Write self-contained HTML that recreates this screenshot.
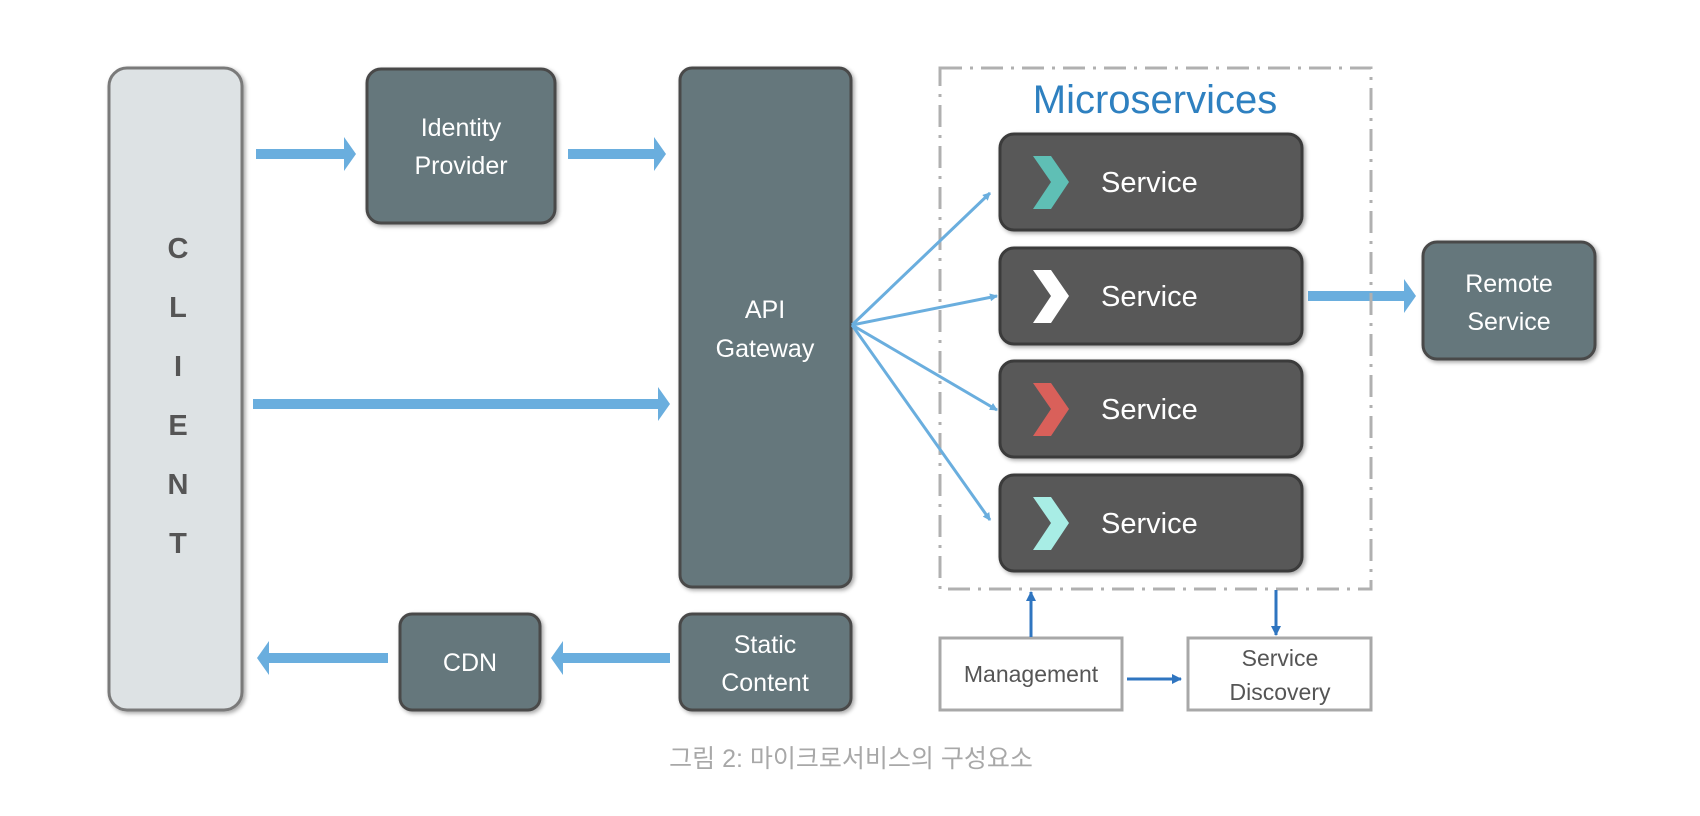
<!DOCTYPE html>
<html><head><meta charset="utf-8"><style>
html,body{margin:0;padding:0;background:#fff;}
svg{display:block}
text{font-family:"Liberation Sans","Noto Sans CJK KR",sans-serif;}
</style></head><body>
<svg width="1700" height="816" viewBox="0 0 1700 816" xmlns="http://www.w3.org/2000/svg">
<defs>
<filter id="sh" x="-10%" y="-10%" width="130%" height="130%"><feDropShadow dx="2" dy="2" stdDeviation="2" flood-color="#000" flood-opacity="0.35"/></filter>
<marker id="ab" markerWidth="8" markerHeight="8" refX="7" refY="4" orient="auto" markerUnits="userSpaceOnUse"><path d="M0,0 L8,4 L0,8 z" fill="#6aaede"/></marker>
<marker id="ad" markerWidth="10" markerHeight="10" refX="9" refY="5" orient="auto" markerUnits="userSpaceOnUse"><path d="M0,0 L10,5 L0,10 z" fill="#2f75c0"/></marker>
</defs>

<!-- Client -->
<rect x="109" y="68" width="133" height="642" rx="18" fill="#dde2e4" stroke="#7a7a7a" stroke-width="3" filter="url(#sh)"/>
<g font-size="29" font-weight="bold" fill="#555" text-anchor="middle">
<text x="178" y="258">C</text><text x="178" y="317">L</text><text x="178" y="376">I</text>
<text x="178" y="435">E</text><text x="178" y="494">N</text><text x="178" y="553">T</text>
</g>

<!-- dark boxes -->
<g fill="#65777b" stroke="#4a4a4a" stroke-width="3" filter="url(#sh)">
<rect x="367" y="69" width="188" height="154" rx="14"/>
<rect x="680" y="68" width="171" height="519" rx="12"/>
<rect x="680" y="614" width="171" height="96" rx="12"/>
<rect x="400" y="614" width="140" height="96" rx="12"/>
<rect x="1423" y="242" width="172" height="117" rx="14"/>
</g>
<g font-size="25" fill="#fff" text-anchor="middle">
<text x="461" y="136">Identity</text><text x="461" y="174">Provider</text>
<text x="765" y="318">API</text><text x="765" y="357">Gateway</text>
<text x="765" y="653">Static</text><text x="765" y="691">Content</text>
<text x="470" y="671">CDN</text>
<text x="1509" y="292">Remote</text><text x="1509" y="330">Service</text>
</g>

<!-- thick arrows -->
<g fill="#6aaede">
<path d="M256,149 h88 v-12 l12,17 l-12,17 v-12 h-88z"/>
<path d="M568,149 h86 v-12 l12,17 l-12,17 v-12 h-86z"/>
<path d="M253,399 h405 v-12 l12,17 l-12,17 v-12 h-405z"/>
<path d="M670,653 h-107 v-12 l-12,17 l12,17 v-12 h107z"/>
<path d="M388,653 h-119 v-12 l-12,17 l12,17 v-12 h119z"/>
<path d="M1308,291 h96 v-12 l12,17 l-12,17 v-12 h-96z"/>
</g>

<!-- dashed container -->
<rect x="940" y="68" width="431" height="521" fill="none" stroke="#b0b0b0" stroke-width="3" stroke-dasharray="22,8,3,8"/>
<text x="1155" y="113" font-size="40" fill="#2e80c0" text-anchor="middle">Microservices</text>

<!-- fan arrows -->
<g stroke="#6aaede" stroke-width="3" fill="none" marker-end="url(#ab)">
<line x1="852" y1="325" x2="990" y2="193"/>
<line x1="852" y1="325" x2="997" y2="296"/>
<line x1="852" y1="325" x2="997" y2="410"/>
<line x1="852" y1="325" x2="990" y2="520"/>
</g>

<!-- services -->
<g fill="#595959" stroke="#3a3a3a" stroke-width="3" filter="url(#sh)">
<rect x="1000" y="134" width="302" height="96" rx="14"/>
<rect x="1000" y="248" width="302" height="96" rx="14"/>
<rect x="1000" y="361" width="302" height="96" rx="14"/>
<rect x="1000" y="475" width="302" height="96" rx="14"/>
</g>
<path d="M1033,156 h18 l18,26 l-18,27 h-18 l18,-27z" fill="#5fbfb5"/>
<path d="M1033,270 h18 l18,26 l-18,27 h-18 l18,-27z" fill="#ffffff"/>
<path d="M1033,383 h18 l18,26 l-18,27 h-18 l18,-27z" fill="#d9605a"/>
<path d="M1033,497 h18 l18,26 l-18,27 h-18 l18,-27z" fill="#a8ede5"/>
<g font-size="29" fill="#fff">
<text x="1101" y="192">Service</text>
<text x="1101" y="306">Service</text>
<text x="1101" y="419">Service</text>
<text x="1101" y="533">Service</text>
</g>

<!-- bottom boxes -->
<rect x="940" y="638" width="182" height="72" fill="#fff" stroke="#a8a8a8" stroke-width="3"/>
<rect x="1188" y="638" width="183" height="72" fill="#fff" stroke="#a8a8a8" stroke-width="3"/>
<g font-size="23" fill="#555" text-anchor="middle">
<text x="1031" y="682">Management</text>
<text x="1280" y="666">Service</text><text x="1280" y="700">Discovery</text>
</g>
<g stroke="#2f75c0" stroke-width="3" marker-end="url(#ad)">
<line x1="1031" y1="637" x2="1031" y2="592"/>
<line x1="1276" y1="590" x2="1276" y2="635"/>
<line x1="1127" y1="679" x2="1181" y2="679"/>
</g>

<text x="851" y="767" font-size="25" fill="#a8a8a8" text-anchor="middle">그림 2: 마이크로서비스의 구성요소</text>
</svg>
</body></html>
